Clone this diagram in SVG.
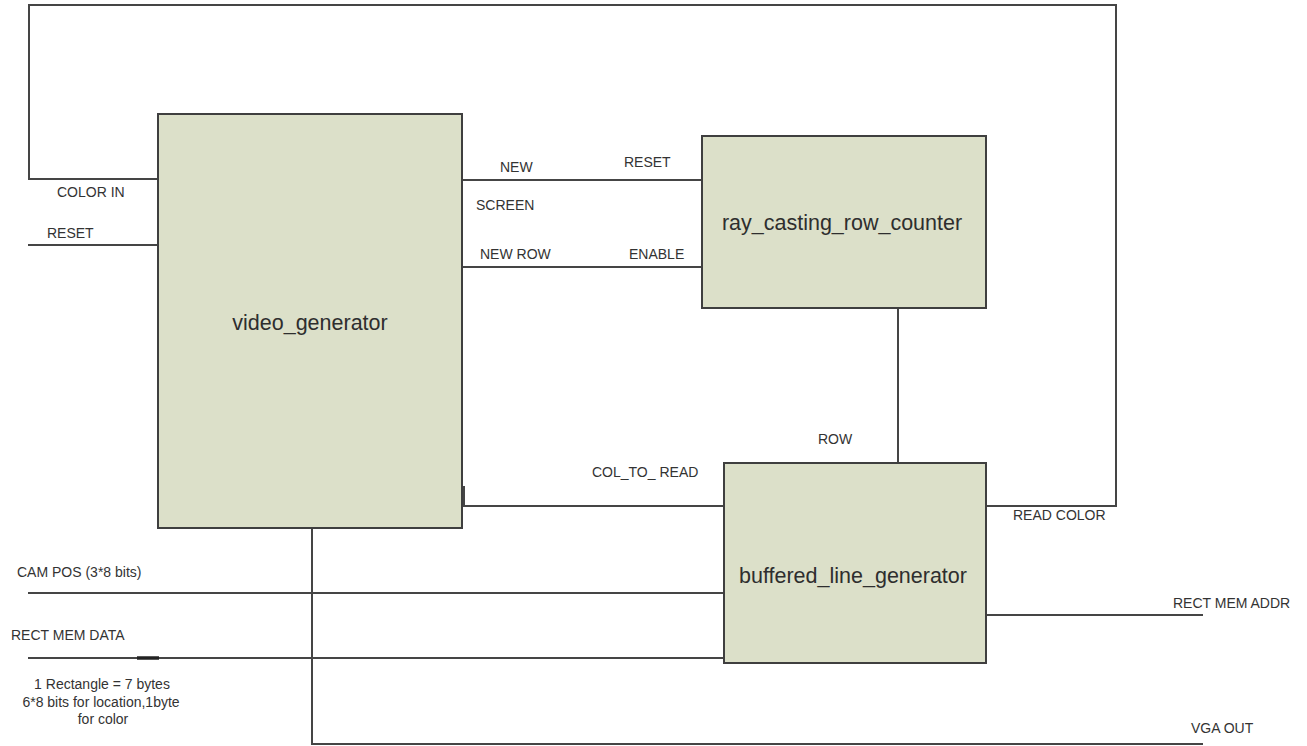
<svg xmlns="http://www.w3.org/2000/svg" width="1307" height="746" viewBox="0 0 1307 746">
<style>
.box{fill:#dce0c9;stroke:#3f3f3f;stroke-width:2}
.w{fill:none;stroke:#454545;stroke-width:2}
.t{font-family:"Liberation Sans",Arial,sans-serif;font-size:14px;fill:#333}
.n{font-family:"Liberation Sans",Arial,sans-serif;font-size:21.5px;fill:#2e2e2e;text-anchor:middle}
.s{font-family:"Liberation Sans",Arial,sans-serif;font-size:14px;fill:#333;text-anchor:middle}
</style>
<rect width="1307" height="746" fill="#fff"/>
<g id="connectors">
<polyline class="w" points="158,179 29,179 29,5 1116,5 1116,506 986,506"/>
<line class="w" x1="28" y1="245" x2="158" y2="245"/>
<line class="w" x1="462" y1="180" x2="702" y2="180"/>
<line class="w" x1="462" y1="267" x2="702" y2="267"/>
<line class="w" x1="898" y1="308" x2="898" y2="463"/>
<line class="w" x1="462" y1="506" x2="724" y2="506"/>
<line class="w" x1="464" y1="486" x2="464" y2="506"/>
<line class="w" x1="28" y1="593" x2="724" y2="593"/>
<line class="w" x1="28" y1="658" x2="724" y2="658"/>
<line stroke="#222" stroke-width="3.5" x1="137" y1="658" x2="159" y2="658"/>
<polyline class="w" points="312,528 312,744 1203,744"/>
<line class="w" x1="986" y1="615" x2="1203" y2="615"/>
</g>
<g id="video_generator">
<rect class="box" x="158" y="114" width="304" height="414"/>
<text class="n" x="310" y="330">video_generator</text>
</g>
<g id="ray_casting_row_counter">
<rect class="box" x="702" y="136" width="284" height="172"/>
<text class="n" x="842" y="230">ray_casting_row_counter</text>
</g>
<g id="buffered_line_generator">
<rect class="box" x="724" y="463" width="262" height="200"/>
<text class="n" x="853" y="583">buffered_line_generator</text>
</g>
<g id="labels">
<text class="t" x="57" y="197">COLOR IN</text>
<text class="t" x="47" y="238">RESET</text>
<text class="t" x="500" y="172">NEW</text>
<text class="t" x="624" y="167">RESET</text>
<text class="t" x="476" y="210">SCREEN</text>
<text class="t" x="480" y="259">NEW ROW</text>
<text class="t" x="629" y="259">ENABLE</text>
<text class="t" x="818" y="444">ROW</text>
<text class="t" x="592" y="477">COL_TO_ READ</text>
<text class="t" x="1013" y="520">READ COLOR</text>
<text class="t" x="17" y="577">CAM POS (3*8 bits)</text>
<text class="t" x="11" y="640">RECT MEM DATA</text>
<text class="t" x="1173" y="608">RECT MEM ADDR</text>
<text class="t" x="1191" y="733">VGA OUT</text>
<text class="s" x="102" y="689">1 Rectangle = 7 bytes</text>
<text class="s" x="101" y="707">6*8 bits for location,1byte</text>
<text class="s" x="103" y="724">for color</text>
</g>
</svg>
